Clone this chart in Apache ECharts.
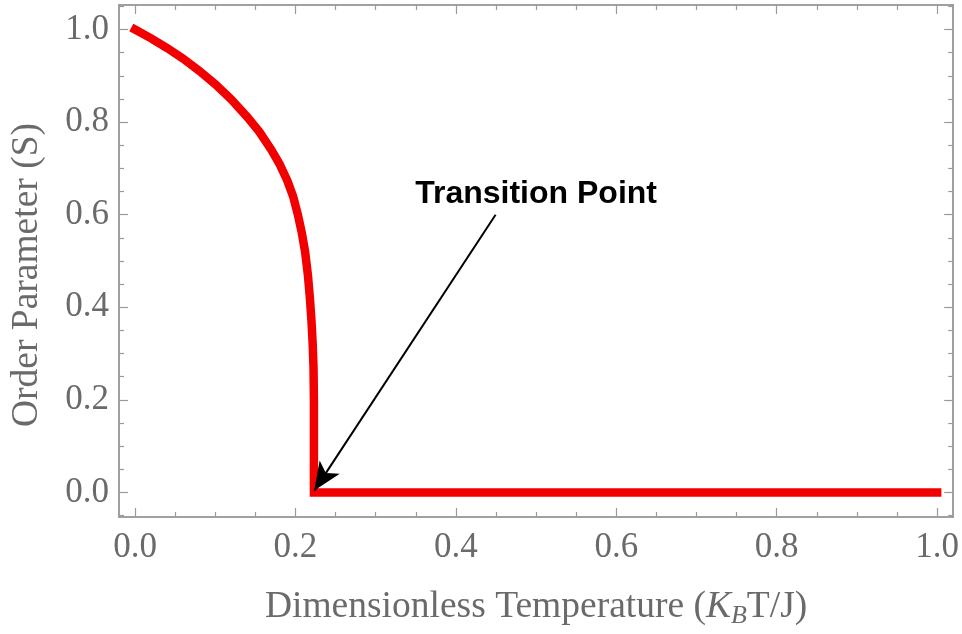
<!DOCTYPE html>
<html>
<head>
<meta charset="utf-8">
<script src="https://cdn.jsdelivr.net/npm/echarts@6/dist/echarts.min.js"></script>
<style>
  html, body { margin: 0; padding: 0; background: #fff; }
  #chart { width: 962px; height: 634px; }
</style>
</head>
<body>
<div id="chart"></div>
<script>
// temperature (K_B T / J) and order parameter S
const temps = [0, 0.02, 0.04, 0.06, 0.08, 0.10, 0.12, 0.14, 0.155, 0.17, 0.18, 0.19, 0.197,
  0.203, 0.208, 0.212, 0.2155, 0.218, 0.22, 0.2215, 0.2225, 0.223, 0.223, 1.0];
const order = [1.0, 0.981, 0.960, 0.937, 0.911, 0.882, 0.849, 0.811, 0.779, 0.740, 0.710, 0.673, 0.640,
  0.600, 0.560, 0.520, 0.470, 0.420, 0.370, 0.320, 0.270, 0.200, 0.0, 0.0];

// ticks
const xMajor = [0, 0.2, 0.4, 0.6, 0.8, 1.0];
const xMinor = [0.05, 0.1, 0.15, 0.25, 0.3, 0.35, 0.45, 0.5, 0.55, 0.65, 0.7, 0.75, 0.85, 0.9, 0.95];
const yMajor = [0, 0.2, 0.4, 0.6, 0.8, 1.0];
const yMinor = [-0.05, 0.05, 0.1, 0.15, 0.25, 0.3, 0.35, 0.45, 0.5, 0.55, 0.65, 0.7, 0.75, 0.85, 0.9, 0.95, 1.05];

// annotation
const noteText = 'Transition Point';
const notePos = [0.5, 0.645];
const arrowFrom = [0.4495, 0.600];
const arrowTo = [0.2235, 0.004];

const frameColor = '#9a9a9a';
const labelColor = '#6a6a6a';
const serif = '"Liberation Serif", "DejaVu Serif", serif';

const xRange = { min: -0.02, max: 1.02 };
const yRange = { min: -0.053, max: 1.053 };

function xAxisOf(position, ticks, len, labels) {
  return {
    type: 'value', position: position, offset: 0,
    min: xRange.min, max: xRange.max,
    axisLine: { show: true, onZero: false, lineStyle: { color: frameColor, width: 1.5 } },
    axisTick: { show: true, inside: true, length: len, customValues: ticks,
      lineStyle: { color: frameColor, width: 1.2 } },
    axisLabel: labels ? {
      show: true, customValues: xMajor, margin: 13, color: labelColor,
      fontFamily: serif, fontSize: 35,
      formatter: v => v.toFixed(1)
    } : { show: false },
    splitLine: { show: false }
  };
}

function yAxisOf(position, ticks, len, labels) {
  return {
    type: 'value', position: position, offset: 0,
    min: yRange.min, max: yRange.max,
    axisLine: { show: true, onZero: false, lineStyle: { color: frameColor, width: 1.5 } },
    axisTick: { show: true, inside: true, length: len, customValues: ticks,
      lineStyle: { color: frameColor, width: 1.2 } },
    axisLabel: labels ? {
      show: true, customValues: yMajor, margin: 10, color: labelColor,
      fontFamily: serif, fontSize: 35,
      formatter: v => v.toFixed(1)
    } : { show: false },
    splitLine: { show: false }
  };
}

const xAxes = [
  xAxisOf('bottom', xMajor, 9, true),
  xAxisOf('bottom', xMinor, 5, false),
  xAxisOf('top', xMajor, 9, false),
  xAxisOf('top', xMinor, 5, false)
];
xAxes[0].name = '{n|Dimensionless Temperature (}{i|K}{s|B}{n|T/J)}';
xAxes[0].nameLocation = 'middle';
xAxes[0].nameGap = 68;
xAxes[0].nameTextStyle = {
  rich: {
    n: { fontFamily: serif, fontSize: 37.5, color: labelColor, lineHeight: 44 },
    i: { fontFamily: serif, fontSize: 37.5, fontStyle: 'italic', color: labelColor, lineHeight: 44 },
    s: { fontFamily: serif, fontSize: 26, fontStyle: 'italic', color: labelColor,
      lineHeight: 19, verticalAlign: 'bottom' }
  }
};

const yAxes = [
  yAxisOf('left', yMajor, 9, true),
  yAxisOf('left', yMinor, 5, false),
  yAxisOf('right', yMajor, 9, false),
  yAxisOf('right', yMinor, 5, false)
];
yAxes[0].name = 'Order Parameter (S)';
yAxes[0].nameLocation = 'middle';
yAxes[0].nameGap = 73;
yAxes[0].nameTextStyle = { fontFamily: serif, fontSize: 37.5, color: labelColor, padding: [0, 28, 0, 0] };

let chart = echarts.init(document.getElementById('chart'));
let option = {
  animation: false,
  grid: { left: 118, top: 5, width: 837, height: 516, containLabel: false },
  xAxis: xAxes,
  yAxis: yAxes,
  series: [
    {
      type: 'line',
      xAxisIndex: 0,
      yAxisIndex: 0,
      data: temps.map((t, i) => [t, order[i]]),
      showSymbol: false,
      smooth: false,
      lineStyle: { color: '#f20000', width: 8.5, cap: 'square', join: 'miter' },
      markLine: {
        silent: true,
        symbol: ['none', 'arrow'],
        symbolSize: [18, 28],
        label: { show: false },
        lineStyle: { color: '#000', width: 2, type: 'solid' },
        data: [[{ coord: arrowFrom }, { coord: arrowTo }]]
      },
      markPoint: {
        silent: true,
        symbol: 'circle',
        symbolSize: 1,
        itemStyle: { color: 'rgba(0,0,0,0)' },
        label: {
          show: true, position: 'inside', color: '#000',
          fontFamily: '"Liberation Sans", Arial, sans-serif',
          fontWeight: 'bold', fontSize: 32,
          formatter: noteText
        },
        data: [{ coord: notePos }]
      }
    }
  ]
};
chart.setOption(option);
</script>
</body>
</html>
